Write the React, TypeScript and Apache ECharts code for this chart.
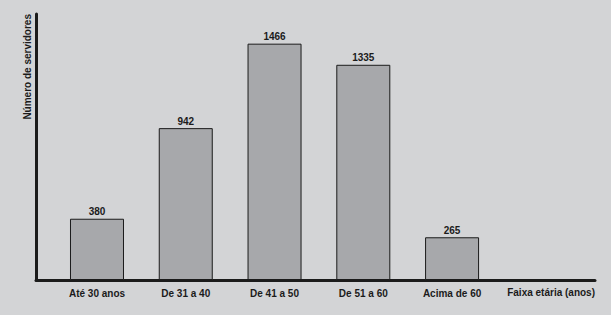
import React, { useEffect, useRef } from "react";
import * as echarts from "echarts";

const categories = ["Até 30 anos", "De 31 a 40", "De 41 a 50", "De 51 a 60", "Acima de 60"];
const values = [380, 942, 1466, 1335, 265];
const xAxisName = "Faixa etária (anos)";
const yAxisName = "Número de servidores";

export default function App() {
  const ref = useRef<HTMLDivElement>(null);
  useEffect(() => {
    document.body.style.margin = "0";
    document.body.style.background = "#d3d4d6";
    const chart = echarts.init(ref.current!, null, { renderer: "svg" });
    const font = "'Liberation Sans', Arial, sans-serif";
    chart.setOption({
      animation: false,
      backgroundColor: "#d3d4d6",
      grid: { left: 36, right: 16, top: 14, bottom: 35 },
      xAxis: {
        type: "value",
        min: -0.687,
        max: 5.61,
        splitLine: { show: false },
        axisTick: { show: false },
        axisLine: { show: true, onZero: false, lineStyle: { color: "#1b1b1b", width: 3 } },
        axisLabel: {
          customValues: categories.map((_, i) => i),
          formatter: (v: number) => categories[Math.round(v)] ?? "",
          color: "#1b1b1b",
          fontFamily: font,
          fontWeight: "bold",
          fontSize: 10,
          margin: 8,
        },
        name: xAxisName,
        nameLocation: "end",
        nameGap: 0,
        nameTextStyle: {
          color: "#1b1b1b",
          fontFamily: font,
          fontWeight: "bold",
          fontSize: 10,
          align: "right",
          verticalAlign: "top",
          padding: [7, 0, 0, 0],
        },
      },
      yAxis: {
        type: "value",
        min: 0,
        max: 1650,
        splitLine: { show: false },
        axisTick: { show: false },
        axisLabel: { show: false },
        axisLine: { show: true, onZero: false, lineStyle: { color: "#1b1b1b", width: 3 } },
        name: yAxisName,
        nameLocation: "end",
        nameRotate: 90,
        nameGap: 0,
        nameTextStyle: {
          color: "#1b1b1b",
          fontFamily: font,
          fontWeight: "bold",
          fontSize: 10,
          align: "right",
          verticalAlign: "bottom",
          padding: [0, 0, 4, 0],
        },
      },
      series: [
        {
          type: "bar",
          barWidth: 54,
          data: values.map((v, i) => [i, v]),
          itemStyle: { color: "#a7a8ab", borderColor: "#1b1b1b", borderWidth: 1 },
          label: {
            show: true,
            position: "top",
            distance: 2,
            formatter: (p: any) => String(p.value[1]),
            color: "#1b1b1b",
            fontFamily: font,
            fontWeight: "bold",
            fontSize: 10,
          },
        },
      ],
    });
    return () => chart.dispose();
  }, []);
  return <div ref={ref} style={{ width: 611, height: 315 }} />;
}
